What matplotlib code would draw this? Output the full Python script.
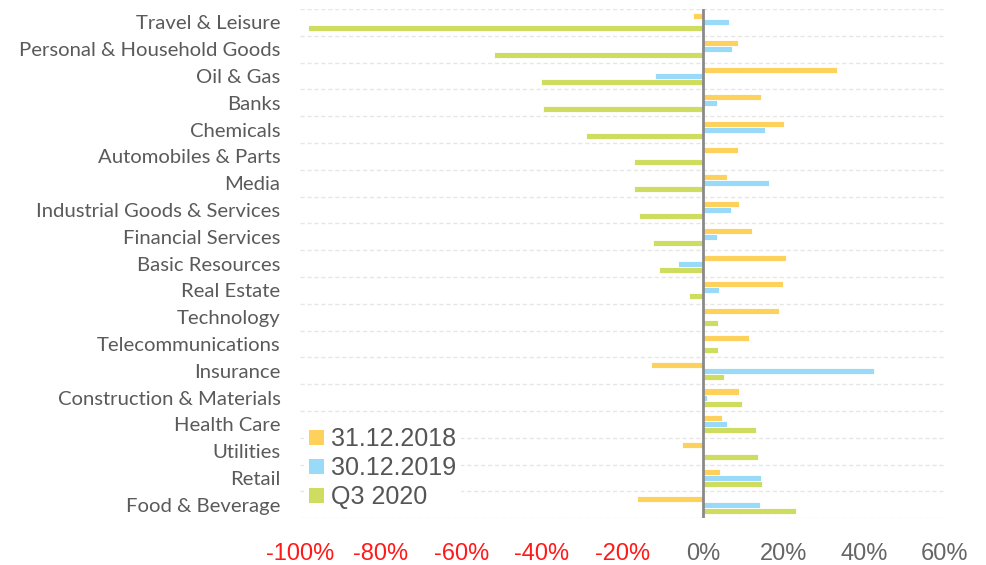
import matplotlib
matplotlib.use("Agg")
import matplotlib.pyplot as plt
import numpy as np
from matplotlib.patches import Patch

categories = ["Travel & Leisure", "Personal & Household Goods", "Oil & Gas", "Banks",
              "Chemicals", "Automobiles & Parts", "Media", "Industrial Goods & Services",
              "Financial Services", "Basic Resources", "Real Estate", "Technology",
              "Telecommunications", "Insurance", "Construction & Materials", "Health Care",
              "Utilities", "Retail", "Food & Beverage"]
s2018 = [-2.4, 8.7, 33.2, 14.4, 20.2, 8.6, 6.1, 8.9, 12.3, 20.6, 19.8, 19.0, 11.5,
         -12.8, 8.9, 4.7, -5.2, 4.3, -16.3]
s2019 = [6.6, 7.2, -11.8, 3.4, 15.5, 0.0, 16.4, 7.1, 3.5, -6.2, 4.0, 0.0, 0.0,
         42.4, 1.1, 5.9, 0.0, 14.5, 14.2]
s2020 = [-98.0, -51.8, -40.1, -39.6, -29.1, -17.2, -17.2, -15.8, -12.3, -10.9, -3.4,
         3.7, 3.7, 5.3, 9.6, 13.2, 13.6, 14.7, 23.0]
series_labels = ["31.12.2018", "30.12.2019", "Q3 2020"]
xticks = [-100, -80, -60, -40, -20, 0, 20, 40, 60]
xtick_labels = ["-100%", "-80%", "-60%", "-40%", "-20%", "0%", "20%", "40%", "60%"]

colors = ["#FDD15C", "#98DAF7", "#CEDC60"]
label_font = ["Lato", "DejaVu Sans"]
narrow_font = ["Liberation Sans Narrow", "Liberation Sans", "DejaVu Sans"]

fig = plt.figure(figsize=(9.87, 5.65), dpi=100)
ax = fig.add_axes([0.304, 0.083, 0.653, 0.901])

n = len(categories)
y = np.arange(n)
h = 0.225
for i, (vals, c) in enumerate(zip([s2018, s2019, s2020], colors)):
    ax.barh(y + (i - 1) * h, vals, height=h, color=c, edgecolor="white",
            linewidth=0.6, zorder=2)

ax.set_ylim(n - 0.5, -0.5)
ax.set_xlim(-100, 60)
for b in np.arange(-0.5, n + 0.5, 1):
    ax.axhline(b, color="#e6e6e6", lw=1.0, ls=(0, (3, 2)), zorder=1)
ax.axvline(0, color="#8a8a8a", lw=2, zorder=3)

for sp in ax.spines.values():
    sp.set_visible(False)
ax.set_yticks(y)
ax.set_yticklabels(categories, family=label_font, fontsize=14.6, color="#5a5a5a")
for t in ax.get_yticklabels():
    t.set_verticalalignment("center_baseline")
ax.tick_params(axis="y", length=0, pad=14)
ax.set_xticks(xticks)
ax.set_xticklabels(xtick_labels, family=narrow_font, fontsize=17)
for t, v in zip(ax.get_xticklabels(), xticks):
    t.set_color("#FF1A1A" if v < 0 else "#666666")
ax.tick_params(axis="x", length=0, pad=18)

handles = [Patch(facecolor=c, edgecolor="none") for c in colors]
leg = ax.legend(handles, series_labels, loc="lower left", bbox_to_anchor=(0.0, 0.0),
                frameon=True, prop={"family": narrow_font, "size": 18},
                handlelength=0.6, handleheight=0.6, handletextpad=0.3,
                labelspacing=0.2, borderpad=0.2, borderaxespad=0.15)
leg.get_frame().set_facecolor("white")
leg.get_frame().set_edgecolor("none")
leg.get_frame().set_alpha(1)
for t in leg.get_texts():
    t.set_color("#555555")
leg.set_zorder(5)

fig.savefig("out.png", dpi=100)
